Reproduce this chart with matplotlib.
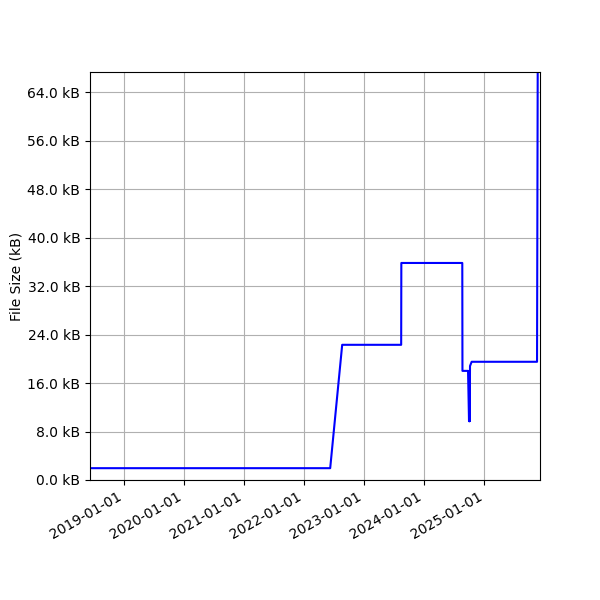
import matplotlib
matplotlib.use("Agg")
import matplotlib.pyplot as plt
import matplotlib.dates as mdates
from matplotlib.ticker import FuncFormatter
import pandas as pd

# commit dates and file sizes (kB)
dates = ["2018-06-07", "2022-06-08", "2022-08-20", "2023-08-14", "2023-08-15",
         "2024-08-20", "2024-08-21", "2024-09-24", "2024-09-30", "2024-10-01",
         "2024-10-02", "2024-10-03", "2024-10-04", "2024-10-06", "2024-10-16",
         "2025-11-18", "2025-11-22"]
sizes = [1.95, 1.95, 22.3, 22.3, 35.8,
         35.8, 18.0, 18.0, 9.7, 18.0,
         9.7, 18.0, 9.7, 18.8, 19.5,
         19.5, 67.3]

x = pd.to_datetime(dates)

fig, ax = plt.subplots(figsize=(6, 6), dpi=100)
ax.plot(x, sizes, color="blue", linewidth=1.5)
ax.set_ylabel("File Size (kB)", labelpad=2.5)
ax.set_ylim(0, max(sizes))
ax.set_xlim(x[0], pd.Timestamp("2025-12-06"))
ax.yaxis.set_major_locator(plt.MultipleLocator(8))
ax.yaxis.set_major_formatter(FuncFormatter(lambda v, p: f"{v:.1f} kB"))
ax.xaxis.set_major_locator(mdates.YearLocator())
ax.xaxis.set_major_formatter(mdates.DateFormatter("%Y-%m-%d"))
ax.grid(True)
fig.autofmt_xdate()
fig.subplots_adjust(left=0.15, right=0.9, top=0.88, bottom=0.2)
fig.savefig("out.png")
